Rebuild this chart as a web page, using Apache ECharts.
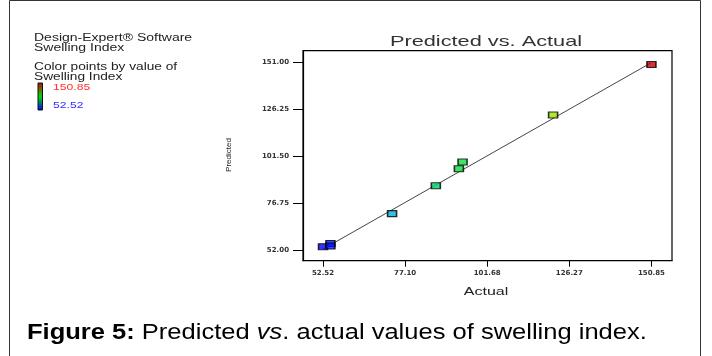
<!DOCTYPE html>
<html><head><meta charset="utf-8">
<script src="https://cdn.jsdelivr.net/npm/echarts@6/dist/echarts.min.js"></script>
<style>html,body{margin:0;padding:0;background:#fff}#c{width:712px;height:356px}</style>
</head><body><div id="c"></div>
<script>
var actual    = [52.52, 54.74, 54.74, 73.2, 86.3, 93.2, 94.3, 121.4, 150.85];
var predicted = [53.8, 55.5, 54.1, 71.2, 85.9, 94.9, 98.4, 123.2, 149.8];
var xTicks = [52.52, 77.10, 101.68, 126.27, 150.85];
var yTicks = [52.00, 76.75, 101.50, 126.25, 151.00];
var colorMax = 150.85, colorMin = 52.52;

var pts = actual.map(function(a,i){return [a, predicted[i]];});
var chart = echarts.init(document.getElementById('c'), null, {renderer:'canvas'});
var smallLbl = {fontSize:7, fontWeight:'bold', color:'#333', fontFamily:'DejaVu Sans'};
var F = 'Liberation Sans';
chart.setOption({
  animation:false,
  grid:{left:303, top:50.7, width:369, height:210, show:true, borderColor:'#000', borderWidth:1.2},
  xAxis:{type:'value', min:46.53, max:157.0, splitLine:{show:false},
    axisLine:{show:true, onZero:false, lineStyle:{color:'#000', width:1.2}},
    axisTick:{show:true, length:6, customValues:xTicks, lineStyle:{color:'#000'}},
    axisLabel:Object.assign({customValues:xTicks, margin:9, formatter:function(v){return v.toFixed(2);}}, smallLbl)},
  yAxis:{type:'value', min:46.4, max:157.1, splitLine:{show:false},
    axisLine:{show:true, onZero:false, lineStyle:{color:'#000', width:1.2}},
    axisTick:{show:true, length:10, customValues:yTicks, lineStyle:{color:'#000'}},
    axisLabel:Object.assign({customValues:yTicks, margin:14, formatter:function(v){return v.toFixed(2);}}, smallLbl)},
  visualMap:{show:false, type:'continuous', seriesIndex:1, dimension:0, min:colorMin, max:colorMax,
    inRange:{color:['#0000ff','#00b0e0','#00e040','#60e000','#e0e000','#c80000']}},
  series:[
    {type:'line', data:[[colorMin,colorMin],[colorMax,colorMax]], symbol:'none', z:1,
      lineStyle:{color:'#444', width:1}},
    {type:'scatter', data:pts, symbol:'rect', symbolSize:[9,6], z:2,
      itemStyle:{borderColor:'#000', borderWidth:1.3}}
  ],
  graphic:[
    {type:'rect', shape:{x:9.5, y:0.5, width:691, height:360}, style:{fill:'none', stroke:'#333', lineWidth:1}},
    {type:'text', x:486, y:41.5, scaleX:1.45, style:{text:'Predicted vs. Actual', fontSize:15, fontFamily:F, fill:'#333', align:'center', verticalAlign:'middle'}},
    {type:'text', x:34, y:33, scaleX:1.4, style:{text:'Design-Expert® Software\nSwelling Index', fontSize:10, lineHeight:10, fontFamily:F, fill:'#222'}},
    {type:'text', x:34, y:62, scaleX:1.37, style:{text:'Color points by value of\nSwelling Index', fontSize:10, lineHeight:10, fontFamily:F, fill:'#222'}},
    {type:'rect', shape:{x:38, y:83, width:4.5, height:27},
      style:{stroke:'#111', lineWidth:1, fill:new echarts.graphic.LinearGradient(0,0,0,1,[
        {offset:0,color:'#d00000'},{offset:0.5,color:'#00dc00'},{offset:1,color:'#0000ff'}])}},
    {type:'text', x:53, y:87.5, scaleX:1.35, style:{text:colorMax.toFixed(2), fontSize:9, fontFamily:F, fill:'#ff3030', verticalAlign:'middle'}},
    {type:'text', x:53, y:106, scaleX:1.35, style:{text:colorMin.toFixed(2), fontSize:9, fontFamily:F, fill:'#3030ff', verticalAlign:'middle'}},
    {type:'text', x:229, y:155, rotation:Math.PI/2, style:{text:'Predicted', fontSize:8, fontFamily:F, fill:'#222', align:'center', verticalAlign:'middle'}},
    {type:'text', x:486, y:292, scaleX:1.6, style:{text:'Actual', fontSize:10, fontFamily:F, fill:'#222', align:'center', verticalAlign:'middle'}},
    {type:'text', x:27, y:333, scaleX:1.16, style:{rich:{
        b:{fontSize:22, fontWeight:'bold', fontFamily:F, color:'#000'},
        n:{fontSize:22, fontFamily:F, color:'#000'},
        i:{fontSize:22, fontStyle:'italic', fontFamily:F, color:'#000'}},
      text:'{b|Figure 5:}{n| Predicted }{i|vs}{n|. actual values of swelling index.}', verticalAlign:'middle'}}
  ]
});
</script></body></html>
